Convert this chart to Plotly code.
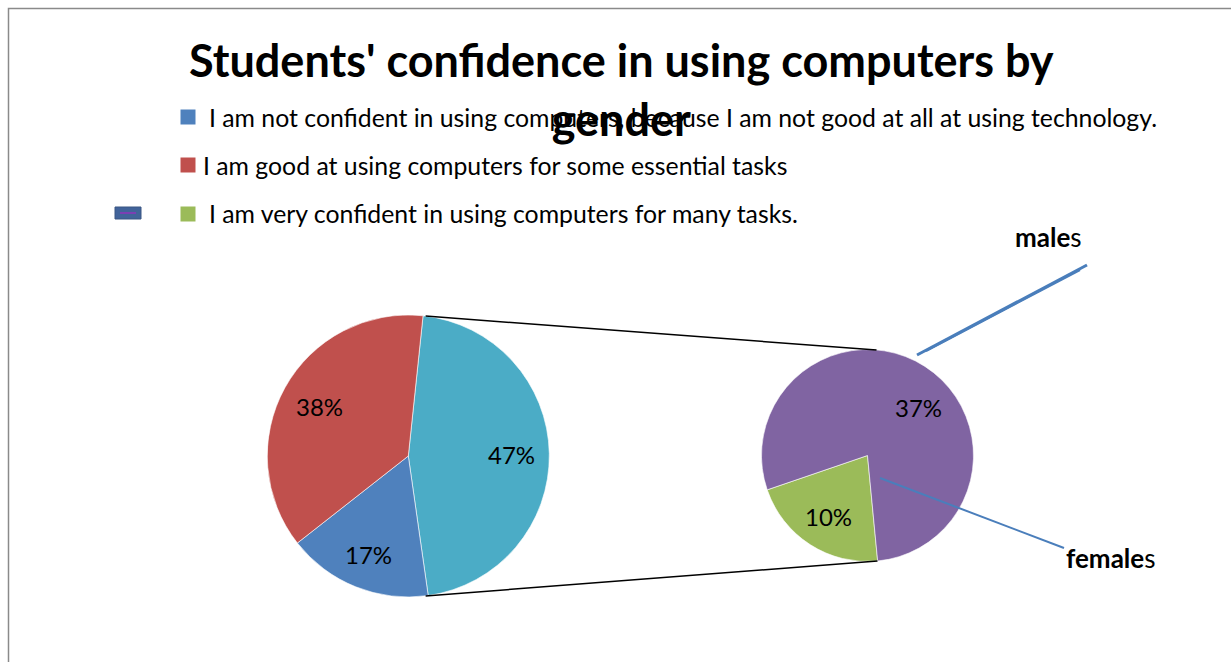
import math
import plotly.graph_objects as go

W, H = 1231, 662

# ---- data ----
title_text = "Students' confidence in using computers by<br>gender"
legend_labels = [
    "I am not confident in using computers, because I am not good at all at using technology.",
    "I am good at using computers for some essential tasks",
    "I am very confident in using computers for many tasks.",
]
main_labels = ["Other", legend_labels[0], legend_labels[1]]
main_values = [47, 17, 38]
sub_labels = ["females", "males"]
sub_values = [10, 37]

BLUE, RED, GREEN = "#4f81bd", "#c0504d", "#9bbb59"
TEAL, PURPLE = "#4bacc6", "#8064a2"
FONT = "Lato, 'Open Sans', sans-serif"


def fx(x):
    return x / W


def fy(y):
    return 1 - y / H


# pie placement (pixel centre and radius)
L_CX, L_CY, L_R, L_ROT = 408.3, 456.0, 141.0, 6.0
R_CX, R_CY, R_R, R_ROT = 867.5, 455.5, 106.0, 174.5


def domain(cx, cy, r):
    return dict(x=[fx(cx - r), fx(cx + r)], y=[fy(cy + r), fy(cy - r)])


fig = go.Figure()

fig.add_trace(go.Pie(
    labels=main_labels, values=main_values, sort=False,
    direction="clockwise", rotation=L_ROT,
    marker=dict(colors=[TEAL, BLUE, RED], line=dict(color="white", width=0.6)),
    textinfo="none",
    domain=domain(L_CX, L_CY, L_R), showlegend=False, hoverinfo="label+value",
))

fig.add_trace(go.Pie(
    labels=sub_labels, values=sub_values, sort=False,
    direction="clockwise", rotation=R_ROT,
    marker=dict(colors=[GREEN, PURPLE], line=dict(color="white", width=0.6)),
    textinfo="none",
    domain=domain(R_CX, R_CY, R_R), showlegend=False, hoverinfo="label+value",
))

shapes = []
annotations = []


def slice_labels(values, cx, cy, r, rot, fracs, shifts):
    """Percent labels placed along each slice's mid-angle."""
    total = sum(values)
    start = math.radians(rot)
    for v, frac, shift in zip(values, fracs, shifts):
        span = v / total * 2 * math.pi
        mid = start + span / 2 + math.radians(shift)
        annotations.append(dict(
            text=f"{v}%", xref="paper", yref="paper",
            x=fx(cx + frac * r * math.sin(mid)), y=fy(cy - frac * r * math.cos(mid)),
            xanchor="center", yanchor="middle", showarrow=False,
            font=dict(family=FONT, size=24, color="black")))
        start += span


slice_labels(main_values, L_CX, L_CY, L_R, L_ROT, [0.73, 0.75, 0.72], [0, 0, 0])
slice_labels(sub_values, R_CX, R_CY, R_R, R_ROT, [0.68, 0.66], [0, 14])

# outer frame
shapes.append(dict(type="rect", xref="paper", yref="paper",
                   x0=fx(8.5), x1=fx(1240), y0=fy(672), y1=fy(8.5),
                   line=dict(color="#8a8a8a", width=1.5), fillcolor="rgba(0,0,0,0)"))

# connector lines between the "Other" slice and the second pie
teal_half = main_values[0] / sum(main_values) * math.pi
top_ang = math.pi / 2 - teal_half
l_top = (L_CX + L_R * math.sin(top_ang), L_CY - L_R * math.cos(top_ang))
l_bot = (L_CX + L_R * math.sin(math.pi - top_ang), L_CY - L_R * math.cos(math.pi - top_ang))
r_top = (R_CX + 9, R_CY - R_R + 0.5)
r_bot = (R_CX + 10, R_CY + R_R - 0.5)
for a, b in [(l_top, r_top), (l_bot, r_bot)]:
    shapes.append(dict(type="line", xref="paper", yref="paper",
                       x0=fx(a[0]), y0=fy(a[1]), x1=fx(b[0]), y1=fy(b[1]),
                       line=dict(color="black", width=1.5)))

# leader lines for the second pie
shapes.append(dict(type="line", xref="paper", yref="paper",
                   x0=fx(917), y0=fy(355), x1=fx(1087), y1=fy(265),
                   line=dict(color="#4a7ebb", width=3)))
shapes.append(dict(type="line", xref="paper", yref="paper",
                   x0=fx(926), y0=fy(351), x1=fx(1080), y1=fy(270),
                   line=dict(color="#4a7ebb", width=2)))
shapes.append(dict(type="line", xref="paper", yref="paper",
                   x0=fx(880), y0=fy(478), x1=fx(1064), y1=fy(548),
                   line=dict(color="#4a7ebb", width=2)))

# legend
legend_rows = [(117, 207), (165, 201), (214, 207)]
for (yc, tx), col, lab in zip(legend_rows, [BLUE, RED, GREEN], legend_labels):
    shapes.append(dict(type="rect", xref="paper", yref="paper",
                       x0=fx(180.5), x1=fx(195.5), y0=fy(yc + 7.5), y1=fy(yc - 7.5),
                       line=dict(width=0), fillcolor=col))
    annotations.append(dict(text=lab, xref="paper", yref="paper",
                            x=fx(tx), y=fy(yc), xanchor="left", yanchor="middle",
                            showarrow=False, font=dict(family=FONT, size=24.8, color="black")))

# stray legend marker
shapes.append(dict(type="rect", xref="paper", yref="paper",
                   x0=fx(115), x1=fx(141), y0=fy(219), y1=fy(207),
                   line=dict(color="#3a5683", width=1), fillcolor="#41639a"))
shapes.append(dict(type="line", xref="paper", yref="paper",
                   x0=fx(120), x1=fx(136), y0=fy(213), y1=fy(213),
                   line=dict(color="#7b3fb3", width=2)))

# second-pie labels
annotations.append(dict(text="<b>male</b>s", xref="paper", yref="paper",
                        x=fx(1048), y=fy(237), xanchor="center", yanchor="middle",
                        showarrow=False, font=dict(family=FONT, size=26, color="black")))
annotations.append(dict(text="<b>female</b>s", xref="paper", yref="paper",
                        x=fx(1110), y=fy(558), xanchor="center", yanchor="middle",
                        showarrow=False, font=dict(family=FONT, size=26, color="black")))

# title
annotations.append(dict(text="<b>" + title_text + "</b>", xref="paper", yref="paper",
                        x=fx(621), y=fy(90), xanchor="center", yanchor="middle",
                        showarrow=False, align="center",
                        font=dict(family=FONT, size=45, color="black")))

fig.update_layout(
    width=W, height=H,
    margin=dict(l=0, r=0, t=0, b=0),
    paper_bgcolor="white", plot_bgcolor="white",
    shapes=shapes, annotations=annotations,
    showlegend=False,
)

fig.write_html("out.html")
